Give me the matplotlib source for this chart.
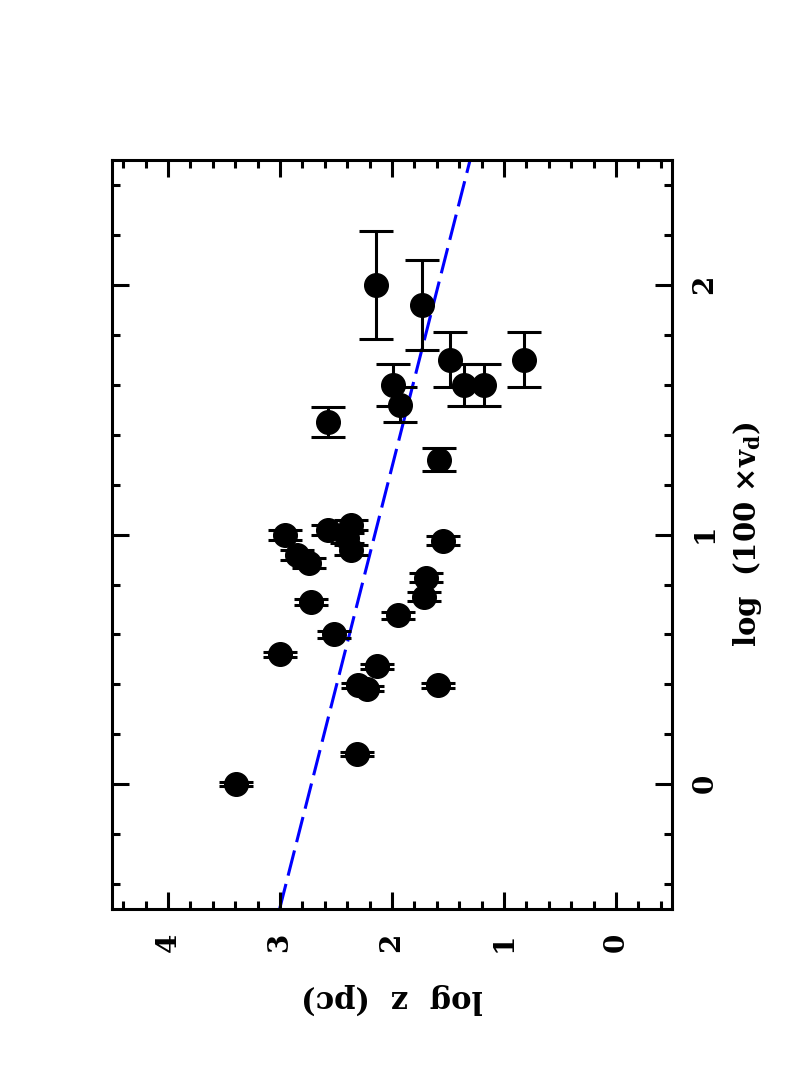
import numpy as np
import matplotlib
matplotlib.use("Agg")
import matplotlib.pyplot as plt

# data (log z in pc, log(100 x v_d), error on log v_d)
log_v = [2.00, 1.92, 1.70, 1.70, 1.60, 1.60, 1.60, 1.52, 1.45, 1.30,
         1.04, 1.02, 1.00, 0.985, 0.976, 0.94, 0.92, 0.885, 0.827, 0.75,
         0.73, 0.676, 0.60, 0.52, 0.472, 0.396, 0.383, 0.396, 0.123, 0.0]
log_z = [2.14, 1.73, 1.48, 0.82, 1.99, 1.36, 1.18, 1.93, 2.57, 1.58,
         2.37, 2.57, 2.955, 2.40, 1.54, 2.37, 2.85, 2.74, 1.70, 1.71,
         2.72, 1.95, 2.52, 3.00, 2.13, 2.30, 2.22, 1.59, 2.31, 3.39]
err_v = [0.215, 0.18, 0.11, 0.11, 0.085, 0.085, 0.085, 0.07, 0.06, 0.045,
         0.02, 0.02, 0.02, 0.02, 0.018, 0.02, 0.02, 0.02, 0.018, 0.018,
         0.013, 0.013, 0.013, 0.01, 0.01, 0.01, 0.01, 0.01, 0.008, 0.008]

# fitted relation: log z = a + b * log v
fit_a = 2.72
fit_b = -0.567

plt.rcParams['font.family'] = 'DejaVu Serif'
plt.rcParams['font.weight'] = 'bold'
plt.rcParams['mathtext.fontset'] = 'dejavuserif'
plt.rcParams['mathtext.default'] = 'bf'

fig = plt.figure(figsize=(7.97, 10.67), dpi=100)
ax = fig.add_axes([0.1405, 0.148, 0.7026, 0.702])

# plot is drawn rotated: horizontal axis = log z (decreasing), vertical = log v
vv = np.array([-0.5, 2.5])
ax.plot(fit_a + fit_b * vv, vv, color='#0000ff', lw=2.2, ls=(0, (8.5, 2.8)), zorder=1)

ax.errorbar(log_z, log_v, yerr=err_v, fmt='o', color='k', ms=17,
            elinewidth=2.2, capsize=12, capthick=2.2, zorder=2)

ax.set_xlim(4.5, -0.5)
ax.set_ylim(-0.5, 2.5)
ax.set_xticks([0, 1, 2, 3, 4])
ax.set_xticks(np.arange(-0.4, 4.5, 0.2), minor=True)
ax.set_yticks([0, 1, 2])
ax.set_yticks(np.arange(-0.4, 2.5, 0.2), minor=True)

for s in ax.spines.values():
    s.set_linewidth(2.2)

ax.tick_params(which='both', direction='in', top=True, bottom=True,
               left=True, right=True, width=2.2,
               labelleft=False, labelright=True, labelsize=20)
ax.tick_params(which='major', length=12)
ax.tick_params(which='minor', length=6)
ax.tick_params(axis='x', labelrotation=90, pad=17)
ax.tick_params(axis='y', labelrotation=90, pad=14)

ax.set_xlabel('log  z  (pc)', fontsize=22, fontweight='bold', rotation=180, labelpad=22)
ax.yaxis.set_label_position('right')
ax.set_ylabel(r'log  (100 ×v$_{d}$)', fontsize=21, fontweight='bold', rotation=90, labelpad=9)

fig.savefig('out.png', dpi=100)
